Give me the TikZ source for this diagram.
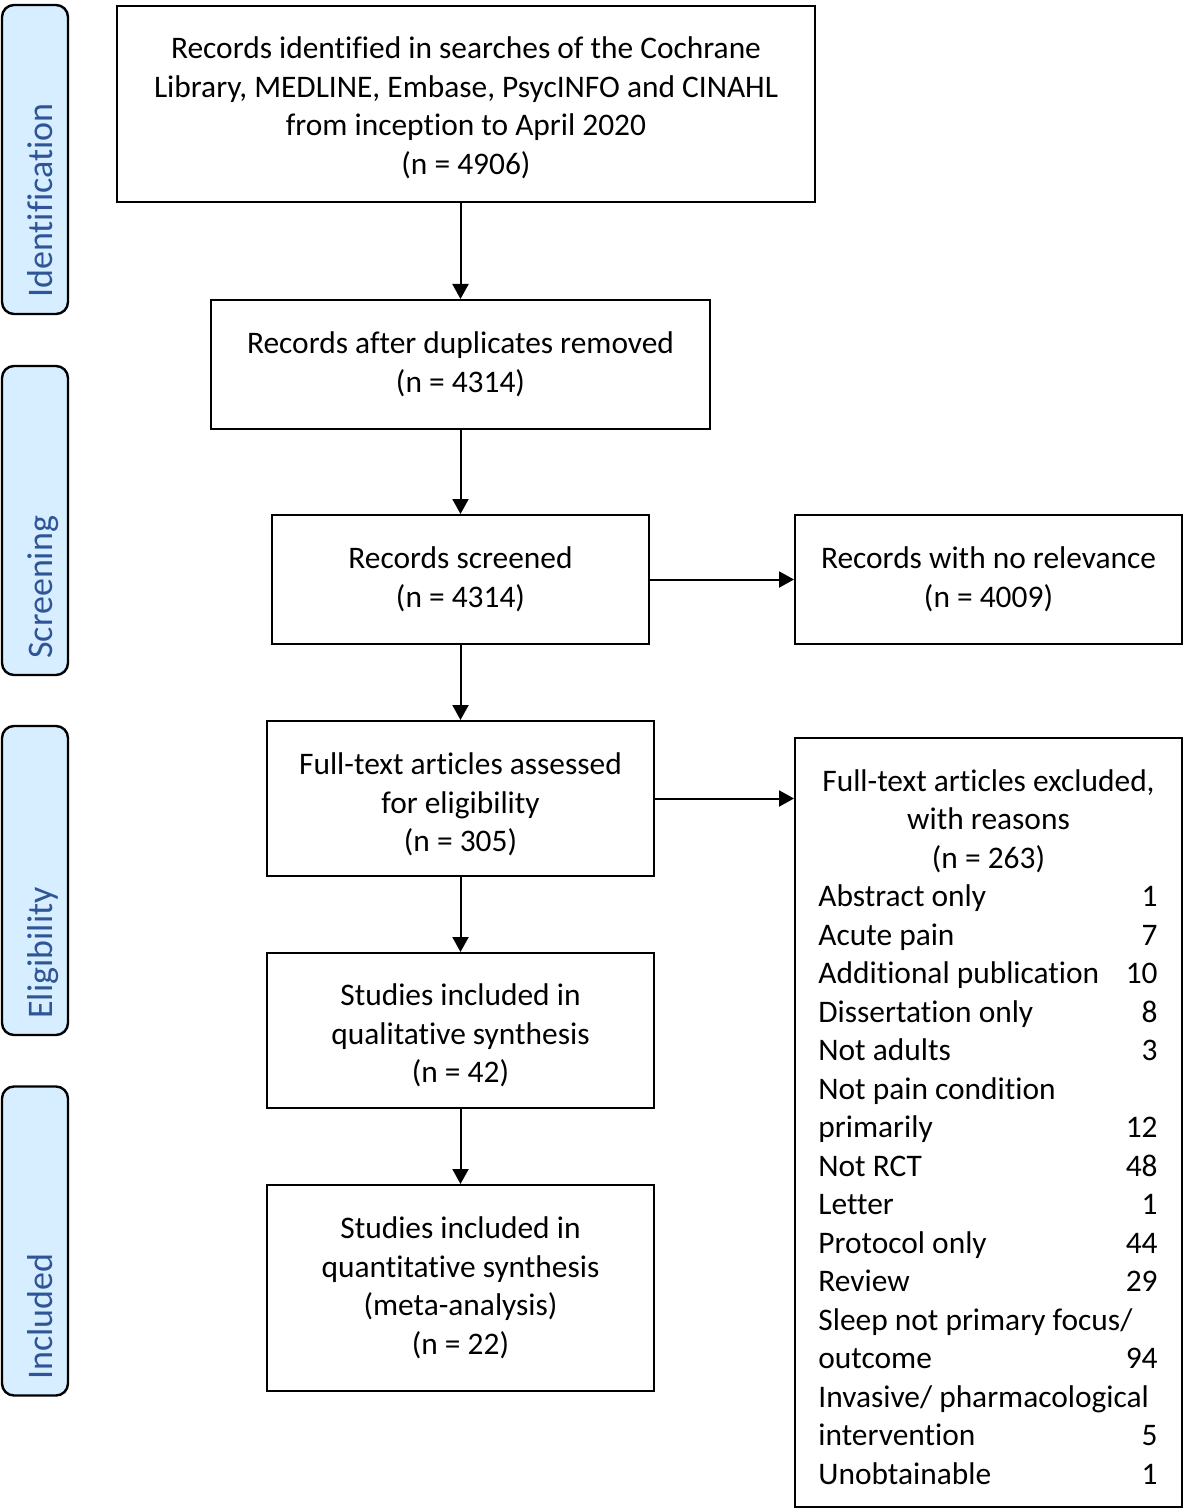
\documentclass[tikz,border=0pt]{standalone}
\usepackage{fontspec}
\setmainfont[Ligatures=NoCommon]{Carlito}
\usetikzlibrary{arrows.meta}
\definecolor{sidefill}{RGB}{214,238,255}
\definecolor{sidetext}{RGB}{47,85,151}
\tikzset{
  box/.style={draw=black, line width=1pt, fill=white, inner sep=0pt},
  boxtext/.style={align=center, inner sep=0pt,
    font=\fontsize{15.7pt}{19.25pt}\selectfont},
  sidebox/.style={draw=black, line width=1.2pt, fill=sidefill, rounded corners=6pt,
    minimum width=33pt, minimum height=154.5pt, inner sep=0pt},
  sidelabel/.style={rotate=90, anchor=base west, inner sep=0pt, text=sidetext,
    font=\fontsize{18pt}{22pt}\selectfont},
  listtext/.style={inner sep=0pt, font=\fontsize{15.7pt}{19.25pt}\selectfont},
  arr/.style={line width=1pt, -{Triangle[length=7.5pt,width=8pt]}}
}
\begin{document}
\begin{tikzpicture}[x=0.5pt,y=-0.5pt]
\useasboundingbox (0,0) rectangle (1184,1508);

% side boxes
\node[sidebox] (sid) at (35,159.5) {};
\node[sidelabel] (sidl) at (52,298) {Identification};
\node[sidebox] (sscr) at (35,520.5) {};
\node[sidelabel] (sscrl) at (52,659) {Screening};
\node[sidebox] (sel) at (35,880.5) {};
\node[sidelabel] (sell) at (52,1019) {Eligibility};
\node[sidebox] (sinc) at (35,1241) {};
\node[sidelabel] (sincl) at (52,1380) {Included};

% main boxes
\node[box, minimum width=349pt, minimum height=98pt] (top) at (466,104) {};
\node[boxtext] (toptext) at ([yshift=-2pt]top.center)
  {Records identified in searches of the Cochrane\\Library, MEDLINE, Embase, PsycINFO and CINAHL\\from inception to April 2020\\(n = 4906)};
\node[box, minimum width=249.5pt, minimum height=64.5pt] (dup) at (460.5,364.5) {};
\node[boxtext] (duptext) at (dup.center)
  {Records after duplicates removed\\(n = 4314)};
\node[box, minimum width=188.5pt, minimum height=64.5pt] (scr) at (460.5,579.5) {};
\node[boxtext] (scrtext) at (scr.center)
  {Records screened\\(n = 4314)};
\node[box, minimum width=193.5pt, minimum height=64.5pt] (norel) at (988.5,579.5) {};
\node[boxtext] (noreltext) at (norel.center)
  {Records with no relevance\\(n = 4009)};
\node[box, minimum width=193.5pt, minimum height=77.5pt] (full) at (460.5,798.5) {};
\node[boxtext] (fulltext) at ([yshift=-3pt]full.center)
  {Full-text articles assessed\\for eligibility\\(n = 305)};
\node[box, minimum width=193.5pt, minimum height=384.5pt] (excl) at (988.5,1122.5) {};
\node[box, minimum width=193.5pt, minimum height=77.5pt] (qual) at (460.5,1030.5) {};
\node[boxtext] (qualtext) at ([yshift=-2.5pt]qual.center)
  {Studies included in\\qualitative synthesis\\(n = 42)};
\node[box, minimum width=193.5pt, minimum height=103pt] (quant) at (460.5,1288) {};
\node[boxtext] (quanttext) at (quant.center)
  {Studies included in\\quantitative synthesis\\(meta-analysis)\\(n = 22)};

% excluded heading
\node[listtext, anchor=base] (exh1) at (988.5,791) {Full-text articles excluded,};
\node[listtext, anchor=base] (exh2) at (988.5,829.5) {with reasons};
\node[listtext, anchor=base] (exh3) at (988.5,868) {(n = 263)};

% excluded list
\foreach \lab/\num [count=\i from 3] in {
  Abstract only/1, Acute pain/7, Additional publication/10, Dissertation only/8,
  Not adults/3, Not pain condition/, primarily/12, Not RCT/48, Letter/1,
  Protocol only/44, Review/29, Sleep not primary focus\slash/,
  outcome/94, Invasive\slash{} pharmacological/, intervention/5, Unobtainable/1} {
  \node[listtext, anchor=base west] (rowL\i) at (818,{791+38.5*\i}) {\lab};
  \node[listtext, anchor=base east] (rowR\i) at (1158,{791+38.5*\i}) {\num};
}

% connectors
\draw[arr] (dup.north |- top.south) -- (dup.north);
\draw[arr] (dup.south) -- (scr.north);
\draw[arr] (scr.east) -- (norel.west);
\draw[arr] (scr.south) -- (full.north);
\draw[arr] (full.east) -- (full.east -| excl.west);
\draw[arr] (full.south) -- (qual.north);
\draw[arr] (qual.south) -- (quant.north);
\end{tikzpicture}
\end{document}
